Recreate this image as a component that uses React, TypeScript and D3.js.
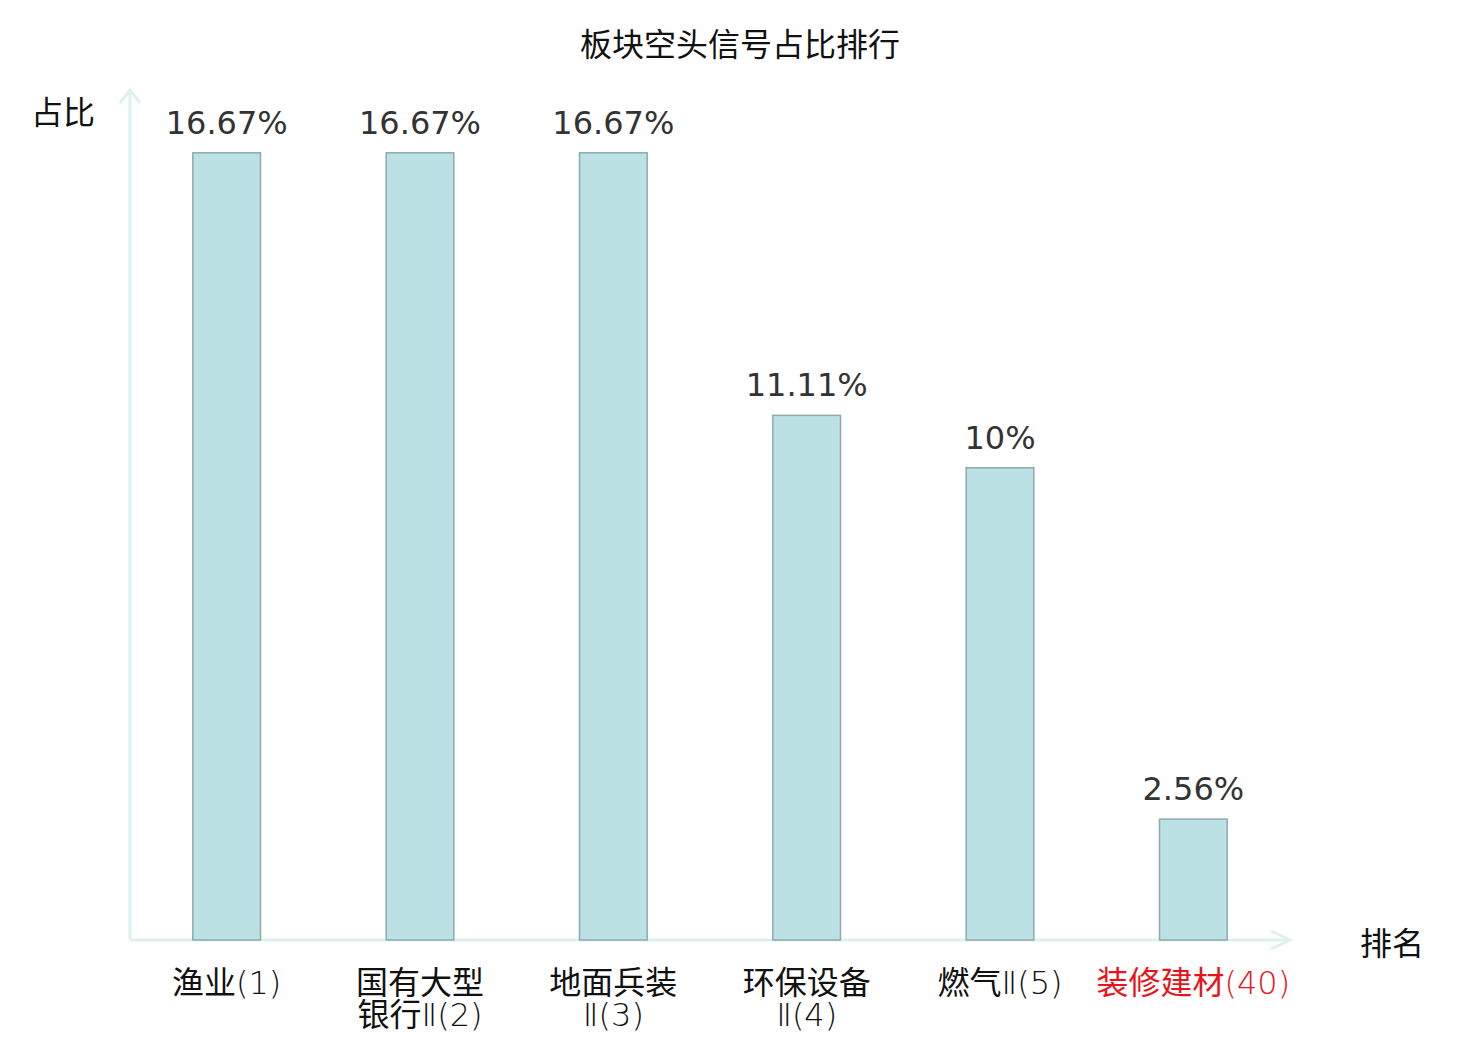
import React from 'react';
import * as d3 from 'd3';

const title = '板块空头信号占比排行';
const categories = [
  ['渔业(1)'],
  ['国有大型', '银行Ⅱ(2)'],
  ['地面兵装', 'Ⅱ(3)'],
  ['环保设备', 'Ⅱ(4)'],
  ['燃气Ⅱ(5)'],
  ['装修建材(40)'],
];
const values = [16.67, 16.67, 16.67, 11.11, 10, 2.56];
const valueLabels = ['16.67%', '16.67%', '16.67%', '11.11%', '10%', '2.56%'];
const highlighted = [false, false, false, false, false, true];

const W = 1480;
const H = 1040;
const left = 130;
const right = 1290;
const base = 940;
const cjk = '"Noto Sans CJK SC", sans-serif';
const thin = '"DejaVu Sans", "Noto Sans CJK SC", sans-serif';

// split a label into CJK runs (regular weight) and Latin runs (thin DejaVu)
function runs(s: string) {
  return s.match(/[\u4e00-\u9fff]+|[^\u4e00-\u9fff]+/g) || [];
}

export default function App() {
  const keys = categories.map(c => c.join(''));
  const x = d3.scaleBand().domain(keys).range([left, right]).paddingInner(0.65).paddingOuter(0.325);
  const y = d3.scaleLinear().domain([0, 18]).range([base, 90]);
  const axisColor = '#ddf2ef';

  return (
    <svg width={W} height={H} style={{ position: 'absolute', left: 0, top: 0, background: '#fff' }}>
      <text x={740} y={42} textAnchor="middle" dominantBaseline="central" fontFamily={cjk} fontSize={32} fill="#111">
        {title}
      </text>

      {/* axes */}
      <line x1={left} y1={base} x2={left} y2={90} stroke={axisColor} strokeWidth={3} />
      <path d={`M${left - 10},103 L${left},90 L${left + 10},103`} fill="none" stroke={axisColor} strokeWidth={3} />
      <line x1={left} y1={base} x2={right} y2={base} stroke={axisColor} strokeWidth={3} />
      <path d={`M${right - 19},${base - 9} L${right},${base} L${right - 19},${base + 9}`} fill="none" stroke={axisColor} strokeWidth={3} />

      <text x={63} y={110} textAnchor="middle" dominantBaseline="central" fontFamily={cjk} fontSize={32} fill="#111">
        占比
      </text>
      <text x={1392} y={941} textAnchor="middle" dominantBaseline="central" fontFamily={cjk} fontSize={32} fill="#111">
        排名
      </text>

      {values.map((v, i) => {
        const k = keys[i];
        const bx = x(k)!;
        const bw = x.bandwidth();
        return (
          <g key={k}>
            <rect x={bx} y={y(v)} width={bw} height={base - y(v)} fill="#bce1e4" stroke="#8fa9aa" strokeWidth={1.5} />
            <text x={bx + bw / 2} y={y(v) - 19} textAnchor="middle" fontFamily='"DejaVu Sans", sans-serif' fontSize={32} fill="#333">
              {valueLabels[i]}
            </text>
            {categories[i].map((line, j) => (
              <text
                key={j}
                x={bx + bw / 2}
                y={994 + j * 32}
                textAnchor="middle"
                fontSize={32}
                fill={highlighted[i] ? '#e8141c' : '#111'}
              >
                {runs(line).map((r, n) =>
                  /[\u4e00-\u9fff]/.test(r) ? (
                    <tspan key={n} fontFamily={cjk}>{r}</tspan>
                  ) : (
                    <tspan key={n} fontFamily={thin} fontWeight={200}>{r}</tspan>
                  )
                )}
              </text>
            ))}
          </g>
        );
      })}
    </svg>
  );
}
